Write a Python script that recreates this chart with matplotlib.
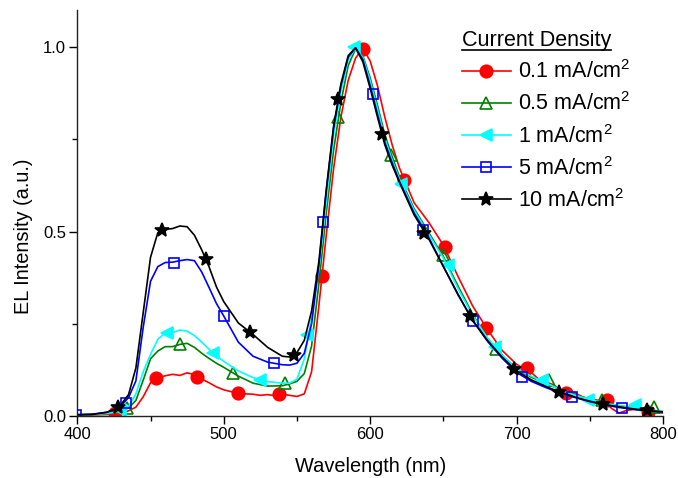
import matplotlib
matplotlib.use('Agg')
import matplotlib.pyplot as plt
from matplotlib.lines import Line2D
from matplotlib.ticker import MultipleLocator

plt.rcParams['font.family'] = ['Liberation Sans', 'DejaVu Sans']
plt.rcParams['mathtext.fontset'] = 'custom'
plt.rcParams['mathtext.rm'] = 'Liberation Sans'

# shared wavelength grid (nm) for 0.5 / 1 / 5 / 10 mA/cm2
wl = [400, 410, 420, 425, 430, 435, 440, 445, 450, 455, 460, 465, 470, 475, 480, 485, 490, 495, 500, 510,
      520, 530, 540, 545, 550, 555, 560, 565, 570, 575, 580, 585, 590, 595, 600, 605, 610, 615, 620, 630,
      640, 650, 660, 670, 680, 690, 700, 710, 720, 730, 740, 750, 760, 770, 780, 790, 800]

i_10 = [0.003, 0.004, 0.010, 0.018, 0.032, 0.058, 0.130, 0.280, 0.430, 0.497,
        0.506, 0.508, 0.515, 0.513, 0.490, 0.450, 0.404, 0.350, 0.310, 0.252,
        0.221, 0.186, 0.162, 0.160, 0.172, 0.205, 0.285, 0.420, 0.613, 0.785,
        0.900, 0.977, 0.998, 0.960, 0.888, 0.810, 0.735, 0.680, 0.633, 0.545,
        0.480, 0.405, 0.330, 0.258, 0.205, 0.160, 0.122, 0.098, 0.080, 0.064,
        0.051, 0.040, 0.031, 0.025, 0.019, 0.015, 0.011]
i_5 = [0.004, 0.005, 0.010, 0.016, 0.028, 0.050, 0.095, 0.240, 0.365, 0.405,
       0.416, 0.417, 0.421, 0.424, 0.421, 0.390, 0.348, 0.305, 0.271, 0.200,
       0.162, 0.146, 0.139, 0.138, 0.143, 0.170, 0.250, 0.410, 0.610, 0.780,
       0.895, 0.973, 0.998, 0.966, 0.895, 0.818, 0.742, 0.686, 0.636, 0.550,
       0.484, 0.405, 0.328, 0.260, 0.203, 0.157, 0.118, 0.094, 0.077, 0.062,
       0.050, 0.039, 0.030, 0.023, 0.018, 0.014, 0.011]
i_1 = [0.003, 0.004, 0.007, 0.010, 0.015, 0.026, 0.060, 0.120, 0.167, 0.208,
       0.225, 0.226, 0.233, 0.230, 0.218, 0.200, 0.181, 0.163, 0.148, 0.122,
       0.104, 0.093, 0.089, 0.089, 0.100, 0.155, 0.270, 0.400, 0.580, 0.760,
       0.880, 0.965, 0.998, 0.972, 0.908, 0.832, 0.752, 0.693, 0.642, 0.558,
       0.492, 0.428, 0.345, 0.272, 0.212, 0.166, 0.127, 0.108, 0.090, 0.071,
       0.056, 0.045, 0.035, 0.028, 0.021, 0.016, 0.012]
i_05 = [0.003, 0.004, 0.006, 0.009, 0.014, 0.022, 0.042, 0.097, 0.155, 0.176,
        0.188, 0.188, 0.194, 0.197, 0.186, 0.170, 0.156, 0.143, 0.132, 0.108,
        0.089, 0.081, 0.082, 0.087, 0.094, 0.115, 0.190, 0.360, 0.550, 0.720,
        0.850, 0.950, 0.995, 0.976, 0.916, 0.842, 0.762, 0.703, 0.648, 0.562,
        0.497, 0.432, 0.352, 0.276, 0.210, 0.165, 0.128, 0.105, 0.088, 0.071,
        0.057, 0.046, 0.036, 0.028, 0.022, 0.017, 0.012]

# 0.1 mA/cm2 is noisier, own grid
wl_01 = [400, 410, 420, 425, 430, 435, 440, 445, 450, 455, 460, 465, 470, 475, 480, 485, 490, 495, 500, 505,
         510, 515, 520, 525, 530, 535, 540, 545, 550, 555, 560, 565, 570, 575, 580, 585, 590, 595, 600, 605,
         610, 615, 620, 630, 640, 650, 660, 670, 680, 690, 700, 705, 710, 715, 720, 725, 730, 735, 740, 745,
         750, 755, 760, 765, 770, 775, 780, 790, 800]
i_01 = [0.002, 0.003, 0.004, 0.006, 0.010, 0.014, 0.024, 0.052, 0.090, 0.103,
        0.109, 0.113, 0.110, 0.117, 0.112, 0.100, 0.090, 0.079, 0.071, 0.066,
        0.063, 0.060, 0.059, 0.056, 0.058, 0.055, 0.059, 0.056, 0.053, 0.060,
        0.120, 0.300, 0.490, 0.670, 0.810, 0.910, 0.970, 0.997, 0.962, 0.895,
        0.810, 0.735, 0.672, 0.578, 0.525, 0.463, 0.378, 0.298, 0.235, 0.178,
        0.140, 0.128, 0.118, 0.100, 0.092, 0.085, 0.070, 0.063, 0.062, 0.052,
        0.045, 0.043, 0.040, 0.020, 0.008, 0.015, 0.018, 0.012, 0.008]

# marker positions
mk_wl_01 = [426, 454, 482, 510, 538, 567, 595, 623, 651, 679, 707, 734, 762, 790]
mk_i_01 = [0.008, 0.102, 0.105, 0.063, 0.060, 0.379, 0.996, 0.639, 0.459, 0.239, 0.129, 0.061, 0.043, 0.012]
mk_wl_05 = [434, 470, 506, 542, 578, 614, 650, 686, 722, 758, 794]
mk_i_05 = [0.021, 0.195, 0.117, 0.090, 0.811, 0.707, 0.436, 0.181, 0.097, 0.043, 0.025]
mk_wl_1 = [429, 461, 493, 525, 557, 589, 621, 653, 685, 717, 749, 781]
mk_i_1 = [0.015, 0.225, 0.170, 0.097, 0.219, 1.000, 0.630, 0.409, 0.188, 0.097, 0.043, 0.030]
mk_wl_5 = [399, 433, 466, 500, 534, 568, 602, 636, 670, 704, 738, 772]
mk_i_5 = [0.004, 0.034, 0.416, 0.272, 0.143, 0.526, 0.872, 0.505, 0.258, 0.106, 0.052, 0.021]
mk_wl_10 = [428, 458, 488, 518, 548, 578, 608, 637, 668, 698, 729, 759, 789]
mk_i_10 = [0.025, 0.505, 0.425, 0.228, 0.165, 0.860, 0.765, 0.497, 0.271, 0.127, 0.066, 0.032, 0.016]

labels = ['0.1 mA/cm$^2$', '0.5 mA/cm$^2$', '1 mA/cm$^2$', '5 mA/cm$^2$', '10 mA/cm$^2$']

series = [
    (wl_01, i_01, mk_wl_01, mk_i_01, '#ff0000', 'o', True, 9),
    (wl, i_05, mk_wl_05, mk_i_05, '#008000', '^', False, 8),
    (wl, i_1, mk_wl_1, mk_i_1, '#00ffff', '<', True, 9),
    (wl, i_5, mk_wl_5, mk_i_5, '#0000ff', 's', False, 7),
    (wl, i_10, mk_wl_10, mk_i_10, '#000000', '*', True, 10),
]

fig = plt.figure(figsize=(6.78, 4.78), dpi=100)
ax = fig.add_axes([0.114, 0.1297, 0.864, 0.849])

handles = []
for (x, y, mx, my, c, m, filled, ms), lab in zip(series, labels):
    ax.plot(x, y, color=c, lw=1.2)
    fc = c if filled else 'none'
    ax.plot(mx, my, ls='none', marker=m, ms=ms, mfc=fc, mec=c, mew=1.2)
    handles.append(Line2D([], [], color=c, lw=1.2, marker=m, ms=ms, mfc=fc, mec=c, mew=1.2))

ax.set_xlim(400, 800)
ax.set_ylim(0, 1.1)
ax.xaxis.set_major_locator(MultipleLocator(100))
ax.xaxis.set_minor_locator(MultipleLocator(50))
ax.set_yticks([0, 0.5, 1.0])
ax.set_yticklabels(['0.0', '0.5', '1.0'])
ax.yaxis.set_minor_locator(MultipleLocator(0.25))
ax.tick_params(which='major', direction='out', length=6, width=1, labelsize=12, pad=2)
ax.tick_params(which='minor', direction='out', length=3.5, width=1)
for s in ['top', 'right']:
    ax.spines[s].set_visible(False)
for s in ['left', 'bottom']:
    ax.spines[s].set_linewidth(1)
    ax.spines[s].set_color('#222222')

ax.set_xlabel('Wavelength (nm)', fontsize=14.4)
ax.set_ylabel('EL Intensity (a.u.)', fontsize=14.4)
ax.xaxis.set_label_coords(0.5, -0.1)
ax.yaxis.set_label_coords(-0.076, 0.443)

leg = ax.legend(handles, labels, title='Current Density', loc='upper left',
                bbox_to_anchor=(0.681, 0.937), bbox_transform=fig.transFigure,
                frameon=False, fontsize=15.5, title_fontsize=15.5, alignment='left',
                handlelength=2.28, handletextpad=0.34, labelspacing=0.43,
                borderpad=0, borderaxespad=0)

# underline the legend title
fig.canvas.draw()
bb = leg.get_title().get_window_extent(fig.canvas.get_renderer())
inv = fig.transFigure.inverted()
(x0, y0), (x1, _) = inv.transform([(bb.x0, bb.y0 + 1), (bb.x1, bb.y0)])
fig.add_artist(Line2D([x0, x1], [y0, y0], color='black', lw=1.2, transform=fig.transFigure))

fig.savefig('out.png', dpi=100)
